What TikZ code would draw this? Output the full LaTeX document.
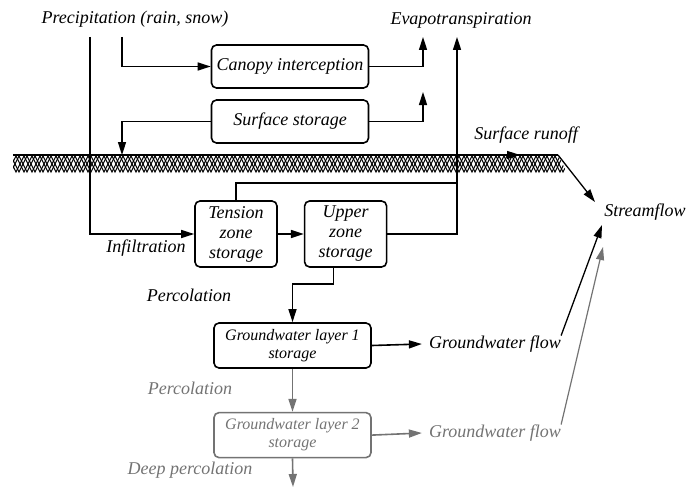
\documentclass[tikz,border=0pt]{standalone}
\usepackage{fontspec}
\setmainfont{Liberation Serif}
\usetikzlibrary{arrows.meta,positioning}

\begin{document}
\begin{tikzpicture}[x=1pt,y=-1pt]
	\tikzstyle{store}=[draw,line width=1.6pt,rounded corners=5pt,align=center,inner sep=0pt,font=\fontsize{18}{20}\selectfont\itshape]
	\tikzstyle{gwstore}=[store,minimum width=157pt,minimum height=45pt,font=\fontsize{16}{18}\selectfont\itshape]
	\tikzstyle{flowtext}=[inner sep=0pt,font=\fontsize{18}{20}\selectfont\itshape]
	\tikzstyle{link}=[line width=1.6pt]
	\tikzstyle{flow}=[link,arrows={-Triangle[length=13pt,width=8pt]}]
	\tikzstyle{deep}=[black!55]
	\tikzstyle{hatch}=[line width=1.1pt]

	\useasboundingbox (0,0) rectangle (690,487);

	% labels
	\node[flowtext] (precip) at (135,19) {Precipitation (rain, snow)};
	\node[flowtext] (evap) at (461,20) {Evapotranspiration};
	\node[flowtext] (runoff) at (526,135) {Surface runoff};
	\node[flowtext] (stream) at (645,212) {Streamflow};
	\node[flowtext] (infil) at (146,248) {Infiltration};
	\node[flowtext] (perc) at (189,295) {Percolation};
	\node[flowtext] (gwflowa) at (495,344) {Groundwater flow};
	\node[flowtext,deep] (percb) at (190,388) {Percolation};
	\node[flowtext,deep] (gwflowb) at (495,433) {Groundwater flow};
	\node[flowtext,deep] (deepperc) at (190,470) {Deep percolation};

	% storages
	\node[store,minimum width=157pt,minimum height=43pt] (canopy) at (290,66.5) {Canopy interception};
	\node[store,minimum width=157pt,minimum height=43pt] (surface) at (290,121.5) {Surface storage};
	\node[store,minimum width=82pt,minimum height=66pt] (tension) at (236,234) {Tension\\zone\\storage};
	\node[store,minimum width=82pt,minimum height=66pt,right=26pt of tension] (upper) {Upper\\zone\\storage};
	\node[gwstore] (gwa) at (292.5,345.5) {Groundwater layer 1\\storage};
	\node[gwstore,deep,below=43pt of gwa] (gwb) {Groundwater layer 2\\storage};

	\coordinate (pra) at (90,37);
	\coordinate (prb) at (122,37);
	\coordinate (eta) at (423,37);
	\coordinate (etb) at (423,92);
	\coordinate (etc) at (457,37);
	\coordinate (tj) at (457,183);
	\coordinate (sfin) at (122,155);
	\coordinate (gl) at (13,155);
	\coordinate (gr) at (558,155);
	\coordinate (rtip) at (520,155);
	\coordinate (sa) at (595,202);
	\coordinate (sb) at (602,225);
	\coordinate (sc) at (603,247);
	\coordinate (dp) at (293,487);

	% ground
	\begin{scope}
		\clip (gl) -- (gr) -- (567,173) -- (13,173) -- cycle;
		\foreach \x in {0,8,...,576} {
			\draw[hatch] (\x,156) -- (\x+4,164) -- (\x+8,156);
			\draw[hatch] (\x+3,156) -- (\x+7,164) -- (\x+11,156);
			\draw[hatch] (\x+4,164) -- (\x+8,172) -- (\x+12,164);
			\draw[hatch] (\x+7,164) -- (\x+11,172) -- (\x+15,164);
		}
	\end{scope}
	\draw[link] (gl) -- (gr);
	\draw[flow] (440,155) -- (rtip);
	\draw[flow,line width=1.3pt] (gr) -- (sa);

	% connectors
	\draw[flow] (pra) |- (tension.west);
	\draw[flow] (prb) |- (canopy.west);
	\draw[flow] (canopy.east) -| (eta);
	\draw[flow] (surface.east) -| (etb);
	\draw[flow] (surface.west) -| (sfin);
	\draw[flow] (upper.east) -| (etc);
	\draw[link] (tension.north) |- (tj);
	\draw[flow] (tension.east) -- (upper.west);
	\draw[flow] ([xshift=-12pt]upper.south) -- ++(0,16) -| (gwa.north);
	\draw[flow] (gwa.east) -- ([xshift=-7pt]gwflowa.west);
	\draw[flow,line width=1.3pt] (gwflowa.north east) -- (sb);
	\draw[flow,deep] (gwa.south) -- (gwb.north);
	\draw[flow,deep] (gwb.east) -- ([xshift=-7pt]gwflowb.west);
	\draw[flow,deep,line width=1.2pt] (gwflowb.north east) -- (sc);
	\draw[flow,deep] (gwb.south) -- (dp);
\end{tikzpicture}
\end{document}
